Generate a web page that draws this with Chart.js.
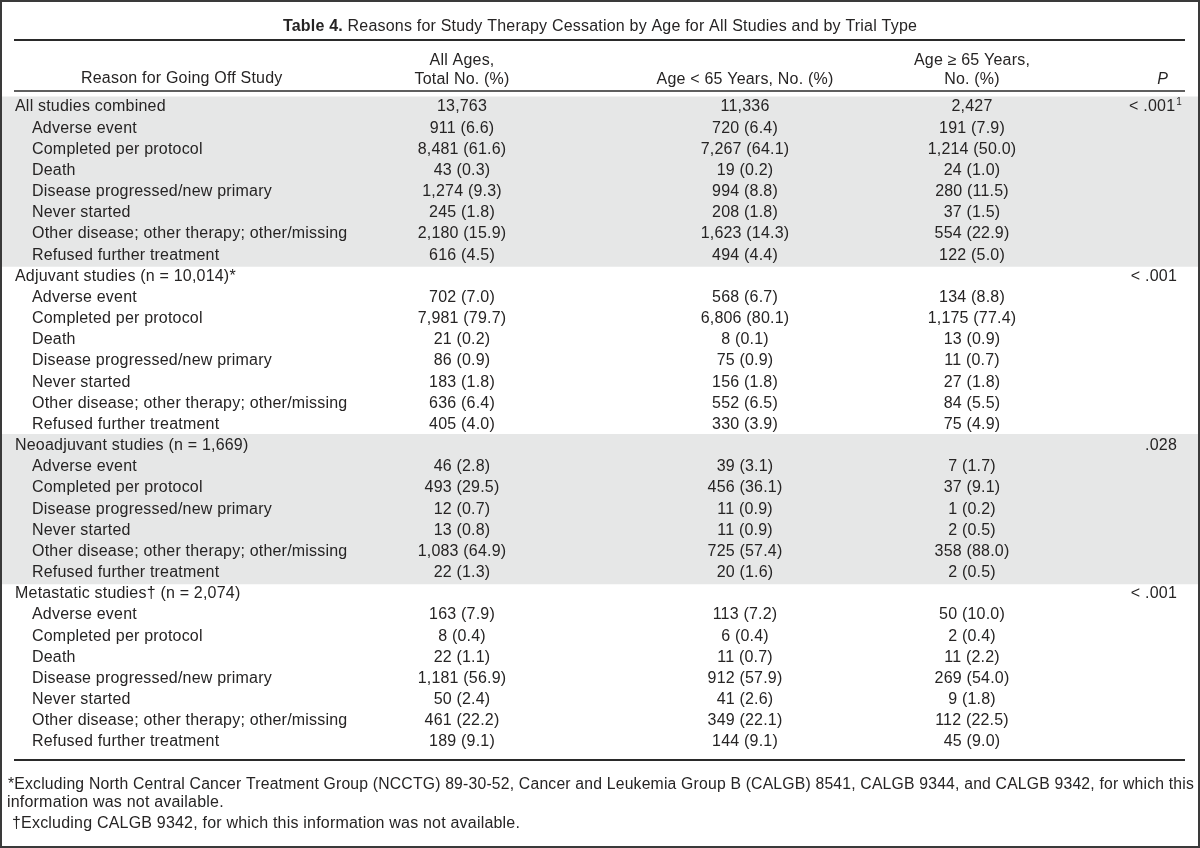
<!DOCTYPE html>
<html>
<head>
<meta charset="utf-8">
<script src="https://cdn.jsdelivr.net/npm/chart.js@4/dist/chart.umd.min.js"></script>
<style>
  html, body { margin: 0; padding: 0; background: #fff; }
  #wrap { width: 1200px; height: 848px; }
</style>
</head>
<body>
<div id="wrap"><canvas id="tbl" width="1200" height="848"></canvas></div>
<script>
// dados da tabela, linha a linha
var reasons = [
    'All studies combined', 'Adverse event', 'Completed per protocol', 'Death',
    'Disease progressed/new primary', 'Never started',
    'Other disease; other therapy; other/missing', 'Refused further treatment',
    'Adjuvant studies (n = 10,014)*', 'Adverse event', 'Completed per protocol', 'Death',
    'Disease progressed/new primary', 'Never started',
    'Other disease; other therapy; other/missing', 'Refused further treatment',
    'Neoadjuvant studies (n = 1,669)', 'Adverse event', 'Completed per protocol',
    'Disease progressed/new primary', 'Never started',
    'Other disease; other therapy; other/missing', 'Refused further treatment',
    'Metastatic studies\u2020 (n = 2,074)', 'Adverse event', 'Completed per protocol', 'Death',
    'Disease progressed/new primary', 'Never started',
    'Other disease; other therapy; other/missing', 'Refused further treatment'
];
var isGroup = [1,0,0,0,0,0,0,0, 1,0,0,0,0,0,0,0, 1,0,0,0,0,0,0, 1,0,0,0,0,0,0,0];
var shaded  = [1,1,1,1,1,1,1,1, 0,0,0,0,0,0,0,0, 1,1,1,1,1,1,1, 0,0,0,0,0,0,0,0];

var allAges = [
    '13,763', '911 (6.6)', '8,481 (61.6)', '43 (0.3)', '1,274 (9.3)', '245 (1.8)', '2,180 (15.9)', '616 (4.5)',
    '', '702 (7.0)', '7,981 (79.7)', '21 (0.2)', '86 (0.9)', '183 (1.8)', '636 (6.4)', '405 (4.0)',
    '', '46 (2.8)', '493 (29.5)', '12 (0.7)', '13 (0.8)', '1,083 (64.9)', '22 (1.3)',
    '', '163 (7.9)', '8 (0.4)', '22 (1.1)', '1,181 (56.9)', '50 (2.4)', '461 (22.2)', '189 (9.1)'
];
var under65 = [
    '11,336', '720 (6.4)', '7,267 (64.1)', '19 (0.2)', '994 (8.8)', '208 (1.8)', '1,623 (14.3)', '494 (4.4)',
    '', '568 (6.7)', '6,806 (80.1)', '8 (0.1)', '75 (0.9)', '156 (1.8)', '552 (6.5)', '330 (3.9)',
    '', '39 (3.1)', '456 (36.1)', '11 (0.9)', '11 (0.9)', '725 (57.4)', '20 (1.6)',
    '', '113 (7.2)', '6 (0.4)', '11 (0.7)', '912 (57.9)', '41 (2.6)', '349 (22.1)', '144 (9.1)'
];
var over65 = [
    '2,427', '191 (7.9)', '1,214 (50.0)', '24 (1.0)', '280 (11.5)', '37 (1.5)', '554 (22.9)', '122 (5.0)',
    '', '134 (8.8)', '1,175 (77.4)', '13 (0.9)', '11 (0.7)', '27 (1.8)', '84 (5.5)', '75 (4.9)',
    '', '7 (1.7)', '37 (9.1)', '1 (0.2)', '2 (0.5)', '358 (88.0)', '2 (0.5)',
    '', '50 (10.0)', '2 (0.4)', '11 (2.2)', '269 (54.0)', '9 (1.8)', '112 (22.5)', '45 (9.0)'
];
var pValues = [];
var pSup = [];
for (var k = 0; k < reasons.length; k++) { pValues.push(''); pSup.push(''); }
pValues[0] = '< .001'; pSup[0] = '1';
pValues[8] = '< .001';
pValues[16] = '.028';
pValues[23] = '< .001';

var titleBold = 'Table 4.';
var titleRest = ' Reasons for Study Therapy Cessation by Age for All Studies and by Trial Type';
var headReason = 'Reason for Going Off Study';
var headAll = ['All Ages,', 'Total No. (%)'];
var headUnder = ['', 'Age < 65 Years, No. (%)'];
var headOver = ['Age \u2265 65 Years,', 'No. (%)'];
var headP = 'P';
var footnotes = [
    '*Excluding North Central Cancer Treatment Group (NCCTG) 89-30-52, Cancer and Leukemia Group B (CALGB) 8541, CALGB 9344, and CALGB 9342, for which this',
    'information was not available.',
    '\u2020Excluding CALGB 9342, for which this information was not available.'
];

var FONT = '"Liberation Sans", Arial, sans-serif';
var FS = '16px ';
var INK = '#262424';
var COL = { group: 15, item: 32, all: 462, under: 745, over: 972, pRight: 1177 };

var tablePlugin = {
    id: 'tableText',
    afterDatasetsDraw: function (chart) {
        var ctx = chart.ctx;
        var xs = chart.scales.x, ys = chart.scales.y;
        ctx.save();
        ctx.fillStyle = INK;
        ctx.textBaseline = 'middle';
        ctx.letterSpacing = '0.2px';
        ctx.font = FS + FONT;
        for (var i = 0; i < reasons.length; i++) {
            var y = ys.getPixelForValue(i);
            ctx.textAlign = 'left';
            ctx.fillText(reasons[i], xs.getPixelForValue(isGroup[i] ? COL.group : COL.item), y);
            ctx.textAlign = 'center';
            ctx.fillText(allAges[i], xs.getPixelForValue(COL.all), y);
            ctx.fillText(under65[i], xs.getPixelForValue(COL.under), y);
            ctx.fillText(over65[i], xs.getPixelForValue(COL.over), y);
            if (pValues[i]) {
                var xr = xs.getPixelForValue(COL.pRight);
                if (pSup[i]) {
                    ctx.font = '10px ' + FONT;
                    var sw = ctx.measureText(pSup[i]).width;
                    ctx.textAlign = 'right';
                    ctx.fillText(pSup[i], xr + 5, y - 5);
                    ctx.font = FS + FONT;
                    xr = xr + 5 - sw - 1;
                }
                ctx.textAlign = 'right';
                ctx.fillText(pValues[i], xr, y);
            }
        }
        ctx.restore();
    },
    afterDraw: function (chart) {
        var ctx = chart.ctx;
        ctx.save();
        ctx.fillStyle = INK;
        ctx.textBaseline = 'middle';
        ctx.letterSpacing = '0.2px';

        // titulo
        ctx.font = 'bold ' + FS + FONT;
        var wb = ctx.measureText(titleBold).width;
        ctx.font = FS + FONT;
        var wr = ctx.measureText(titleRest).width;
        var x0 = 600 - (wb + wr) / 2;
        ctx.textAlign = 'left';
        ctx.font = 'bold ' + FS + FONT;
        ctx.fillText(titleBold, x0, 27);
        ctx.font = FS + FONT;
        ctx.fillText(titleRest, x0 + wb, 27);

        // cabecalho
        ctx.fillText(headReason, 81, 79);
        ctx.textAlign = 'center';
        ctx.fillText(headAll[0], COL.all, 61);
        ctx.fillText(headAll[1], COL.all, 80);
        ctx.fillText(headUnder[1], COL.under, 80);
        ctx.fillText(headOver[0], COL.over, 61);
        ctx.fillText(headOver[1], COL.over, 80);
        ctx.textAlign = 'right';
        ctx.font = 'italic ' + FS + FONT;
        ctx.fillText(headP, 1168, 80);

        // linhas
        ctx.strokeStyle = '#2a2a2a';
        ctx.lineWidth = 2;
        ctx.beginPath(); ctx.moveTo(14, 40); ctx.lineTo(1185, 40); ctx.stroke();
        ctx.lineWidth = 1.5;
        ctx.beginPath(); ctx.moveTo(14, 91); ctx.lineTo(1185, 91); ctx.stroke();
        ctx.lineWidth = 2;
        ctx.beginPath(); ctx.moveTo(14, 760); ctx.lineTo(1185, 760); ctx.stroke();

        // notas
        ctx.textAlign = 'left';
        ctx.font = FS + FONT;
        ctx.fillText(footnotes[0], 8, 785, 1186);
        ctx.fillText(footnotes[1], 7, 803);
        ctx.fillText(footnotes[2], 12, 824);

        // moldura
        ctx.strokeStyle = '#3a3a3a';
        ctx.lineWidth = 2;
        ctx.strokeRect(1, 1, 1198, 846);
        ctx.restore();
    }
};

var chart = new Chart(document.getElementById('tbl'), {
    type: 'bar',
    data: {
        labels: reasons,
        datasets: [{
            label: 'faixa',
            data: shaded.map(function (s) { return s ? [0, 1200] : null; }),
            backgroundColor: '#e6e7e7',
            borderWidth: 0,
            barPercentage: 1.1,
            categoryPercentage: 1
        }]
    },
    options: {
        indexAxis: 'y',
        responsive: false,
        animation: false,
        layout: { padding: { top: 96.4, bottom: 95.4, left: 0, right: 0 } },
        plugins: { legend: { display: false }, tooltip: { enabled: false }, title: { display: false } },
        scales: {
            x: { type: 'linear', min: 0, max: 1200, display: false },
            y: { type: 'category', display: false, offset: true }
        }
    },
    plugins: [tablePlugin]
});
</script>
</body>
</html>
